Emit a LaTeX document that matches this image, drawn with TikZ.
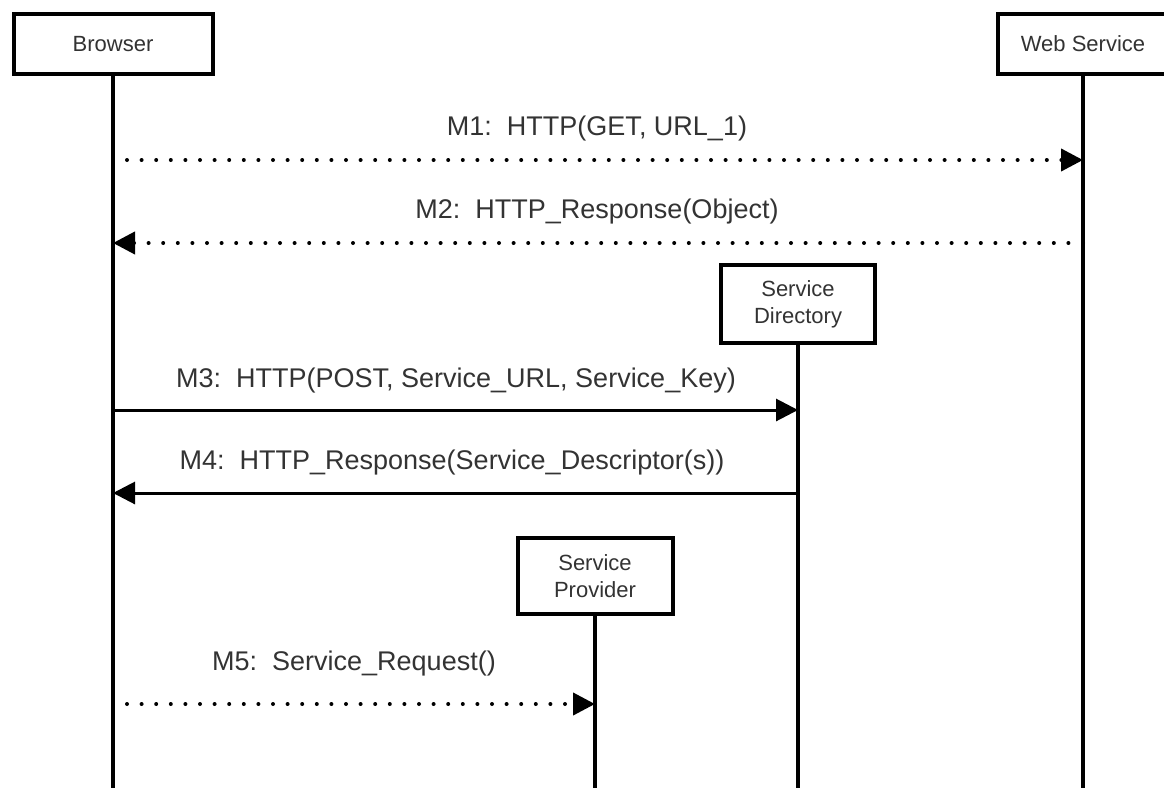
\documentclass[tikz,border=0pt]{standalone}
\usepackage{fontspec}
\setmainfont{Liberation Sans}
\usetikzlibrary{arrows.meta}
\begin{document}
\begin{tikzpicture}[x=1pt,y=-1pt,
  actor/.style={draw=black, line width=4pt, fill=white, minimum width=#1,
    minimum height=60pt, inner sep=0pt, align=center, text=black!80,
    font=\fontsize{22}{27}\selectfont},
  lifeline/.style={line width=3.5pt, draw=black},
  msglabel/.style={anchor=base, inner sep=0pt, text=black!80,
    font=\fontsize{27}{32}\selectfont},
  tip/.style={-{Triangle[length=22pt,width=22pt]}},
  syncmsg/.style={tip, line width=3pt, draw=black},
  dotmsg/.style={tip, line width=4pt, draw=black, line cap=round,
    dash pattern=on 0pt off 14.6pt}]
\clip (0,0) rectangle (1164,787);
\fill[white] (0,0) rectangle (1164,787);

% actors
\node[actor=199pt] (browser) at (113,44) {Browser};
\node[actor=170pt] (websvc) at (1083,44) {Web Service};
\node[actor=154pt, minimum height=78pt] (dir) at (798,304) {Service\\Directory};
\node[actor=155pt, minimum height=76pt] (prov) at (595,576) {Service\\Provider};

% lifeline ends
\coordinate (browserEnd) at (113,790);
\coordinate (websvcEnd) at (1083,790);
\coordinate (dirEnd) at (798,790);
\coordinate (provEnd) at (595,790);
\draw[lifeline] (browser.south) -- (browserEnd);
\draw[lifeline] (websvc.south) -- (websvcEnd);
\draw[lifeline] (dir.south) -- (dirEnd);
\draw[lifeline] (prov.south) -- (provEnd);

% message points
\coordinate (b1) at (113,160); \coordinate (w1) at (1083,160);
\coordinate (b2) at (113,243); \coordinate (w2) at (1083,243);
\coordinate (b3) at (113,410); \coordinate (d3) at (798,410);
\coordinate (b4) at (113,493); \coordinate (d4) at (798,493);
\coordinate (b5) at (113,704); \coordinate (p5) at (595,704);

% messages
\draw[dotmsg, shorten <=14pt] (b1) -- (w1);
\node[msglabel] (m1) at (597,135) {M1:\ \ HTTP(GET, URL\_1)};

\draw[dotmsg] (w2) -- (b2);
\node[msglabel] (m2) at (597,218) {M2:\ \ HTTP\_Response(Object)};

\draw[syncmsg] (b3) -- (d3);
\node[msglabel] (m3) at (456,387) {M3:\ \ HTTP(POST, Service\_URL, Service\_Key)};

\draw[syncmsg] (d4) -- (b4);
\node[msglabel] (m4) at (452,469) {M4:\ \ HTTP\_Response(Service\_Descriptor(s))};

\draw[dotmsg, shorten <=14pt] (b5) -- (p5);
\node[msglabel] (m5) at (354,670) {M5:\ \ Service\_Request()};
\end{tikzpicture}
\end{document}
